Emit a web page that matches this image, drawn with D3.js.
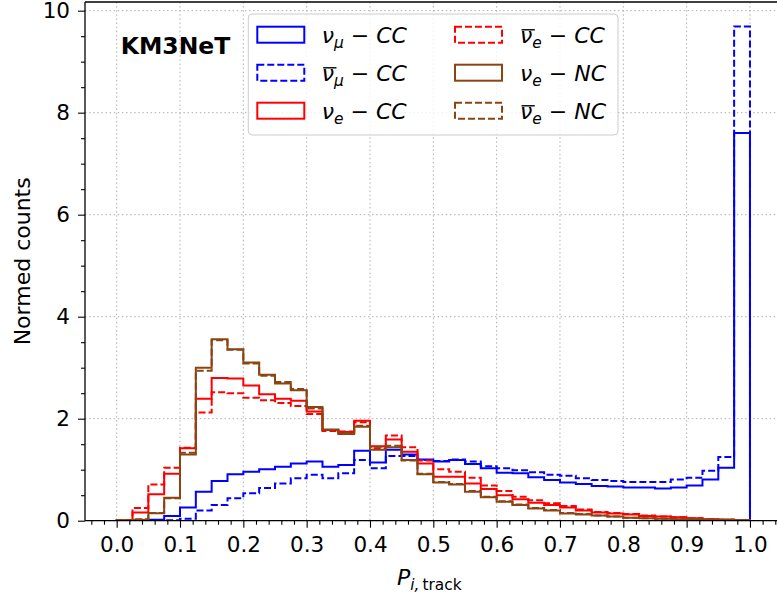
<!DOCTYPE html>
<html>
<head>
<meta charset="utf-8">
<script src="https://cdn.jsdelivr.net/npm/d3@7"></script>
<style>
  body { margin: 0; background: #fff; }
  svg { display: block; }
  text { font-family: "DejaVu Sans", sans-serif; }
</style>
</head>
<body>
<svg id="chart" width="777" height="594"></svg>
<script>
// ---------------- DATA ----------------
const binWidth = 0.025;
const binEdges = d3.range(0, 41).map(k => +(k * binWidth).toFixed(3));

const numuCC = [0, 0.005, 0.02, 0.09, 0.26, 0.57, 0.78, 0.91, 0.96, 1.01,
  1.06, 1.12, 1.16, 1.06, 1.09, 1.37, 1.14, 1.39, 1.30, 1.20,
  1.16, 1.19, 1.11, 1.03, 0.94, 0.93, 0.85, 0.80, 0.75, 0.72,
  0.68, 0.67, 0.65, 0.65, 0.63, 0.65, 0.69, 0.81, 1.04, 7.60];
const antiNumuCC = [0, 0, 0.003, 0.01, 0.04, 0.20, 0.31, 0.44, 0.54, 0.64,
  0.73, 0.83, 0.90, 0.83, 0.93, 1.19, 1.03, 1.27, 1.27, 1.19,
  1.17, 1.20, 1.16, 1.07, 1.03, 0.99, 0.95, 0.90, 0.88, 0.83,
  0.80, 0.78, 0.76, 0.76, 0.76, 0.81, 0.84, 0.98, 1.25, 9.69];
const nueCC = [0.01, 0.16, 0.52, 0.92, 1.42, 2.39, 2.80, 2.79, 2.65, 2.48,
  2.39, 2.35, 2.14, 1.78, 1.74, 1.96, 1.46, 1.59, 1.35, 1.12,
  0.86, 0.86, 0.73, 0.62, 0.50, 0.42, 0.35, 0.31, 0.26, 0.20,
  0.16, 0.14, 0.12, 0.09, 0.08, 0.07, 0.05, 0.03, 0.02, 0.01];
const antiNueCC = [0.01, 0.25, 0.71, 1.04, 1.43, 2.12, 2.52, 2.50, 2.41, 2.36,
  2.31, 2.25, 2.09, 1.76, 1.75, 1.93, 1.42, 1.67, 1.44, 1.18,
  1.01, 0.96, 0.84, 0.69, 0.58, 0.47, 0.40, 0.34, 0.29, 0.22,
  0.17, 0.15, 0.13, 0.10, 0.08, 0.07, 0.05, 0.03, 0.02, 0.01];
const nueNC = [0.005, 0.02, 0.145, 0.45, 1.30, 3.00, 3.56, 3.36, 3.10, 2.86,
  2.69, 2.56, 2.23, 1.79, 1.70, 1.84, 1.39, 1.44, 1.19, 0.91,
  0.75, 0.71, 0.57, 0.46, 0.37, 0.31, 0.24, 0.20, 0.14, 0.12,
  0.10, 0.08, 0.06, 0.05, 0.04, 0.03, 0.03, 0.02, 0.02, 0.01];
const antiNueNC = [0.005, 0.03, 0.15, 0.44, 1.33, 2.94, 3.54, 3.35, 3.08, 2.84,
  2.72, 2.58, 2.20, 1.78, 1.72, 1.86, 1.45, 1.47, 1.18, 0.92,
  0.76, 0.72, 0.58, 0.47, 0.38, 0.32, 0.25, 0.21, 0.15, 0.13,
  0.10, 0.08, 0.06, 0.05, 0.04, 0.03, 0.03, 0.02, 0.02, 0.01];

const xMajorTicks = [0.0, 0.1, 0.2, 0.3, 0.4, 0.5, 0.6, 0.7, 0.8, 0.9, 1.0];
const yMajorTicks = [0, 2, 4, 6, 8, 10];

const series = [
  { values: numuCC,     color: "#0000ff", dashed: false, flav: "μ", anti: false, inter: "CC" },
  { values: antiNumuCC, color: "#0000ff", dashed: true,  flav: "μ", anti: true,  inter: "CC" },
  { values: nueCC,      color: "#ff0000", dashed: false, flav: "e", anti: false, inter: "CC" },
  { values: antiNueCC,  color: "#ff0000", dashed: true,  flav: "e", anti: true,  inter: "CC" },
  { values: nueNC,      color: "#8b4513", dashed: false, flav: "e", anti: false, inter: "NC" },
  { values: antiNueNC,  color: "#8b4513", dashed: true,  flav: "e", anti: true,  inter: "NC" }
];

// ---------------- LAYOUT ----------------
const svg = d3.select("#chart");
const pLeft = 85, pBottom = 520.7, pTop = 2;
const x = d3.scaleLinear().domain([-0.05, 1.05]).range([pLeft, pLeft + 1.1 * 633.3]);
const y = d3.scaleLinear().domain([0, 10.17]).range([pBottom, pTop]);
const pRight = x(1.05);

svg.append("rect").attr("width", 777).attr("height", 594).attr("fill", "#fff");

svg.append("defs").append("clipPath").attr("id", "plotclip")
  .append("rect").attr("x", pLeft).attr("y", pTop).attr("width", pRight - pLeft).attr("height", pBottom - pTop);

// grid
const grid = svg.append("g").attr("stroke", "#b0b0b0").attr("stroke-width", 1)
  .attr("stroke-dasharray", "1.5,2.6").attr("fill", "none");
xMajorTicks.forEach(t => grid.append("line")
  .attr("x1", x(t)).attr("x2", x(t)).attr("y1", pTop).attr("y2", pBottom));
yMajorTicks.forEach(t => grid.append("line")
  .attr("x1", pLeft).attr("x2", pRight).attr("y1", y(t)).attr("y2", y(t)));

// histograms
const stepLine = d3.line().x(d => x(d[0])).y(d => y(d[1]));
const plot = svg.append("g").attr("clip-path", "url(#plotclip)");
series.forEach(s => {
  const pts = [[binEdges[0], 0]];
  s.values.forEach((v, i) => { pts.push([binEdges[i], v]); pts.push([binEdges[i + 1], v]); });
  pts.push([binEdges[binEdges.length - 1], 0]);
  plot.append("path").attr("d", stepLine(pts))
    .attr("fill", "none").attr("stroke", s.color).attr("stroke-width", 2)
    .attr("stroke-linejoin", "miter")
    .attr("stroke-dasharray", s.dashed ? "7,3" : null);
});

// axes
const fs = 21.5;
const xMinor = d3.range(-2, 53).map(k => +(k * 0.02).toFixed(2)).filter(v => Math.abs(v * 10 - Math.round(v * 10)) > 1e-6);
const yMinor = d3.range(0, 21).map(k => k * 0.5).filter(v => v % 2 !== 0);

svg.append("g").attr("transform", `translate(0,${pBottom})`)
  .call(d3.axisBottom(x).tickValues(xMajorTicks).tickFormat(d3.format(".1f")).tickSize(7).tickPadding(9));
svg.append("g").attr("transform", `translate(0,${pBottom})`)
  .call(d3.axisBottom(x).tickValues(xMinor).tickFormat("").tickSize(4));
svg.append("g").attr("transform", `translate(${pLeft},0)`)
  .call(d3.axisLeft(y).tickValues(yMajorTicks).tickFormat(d3.format("d")).tickSize(7).tickPadding(8));
svg.append("g").attr("transform", `translate(${pLeft},0)`)
  .call(d3.axisLeft(y).tickValues(yMinor).tickFormat("").tickSize(4));
svg.selectAll(".domain").remove();
svg.selectAll(".tick line").attr("stroke", "#000").attr("stroke-width", 1.1);
svg.selectAll(".tick text").attr("font-family", "DejaVu Sans").attr("font-size", fs).attr("fill", "#000");

// spines
const sp = svg.append("g").attr("stroke", "#000").attr("stroke-width", 1.3);
sp.append("line").attr("x1", pLeft).attr("x2", pLeft).attr("y1", pTop).attr("y2", pBottom);
sp.append("line").attr("x1", pLeft).attr("x2", pRight).attr("y1", pBottom).attr("y2", pBottom);
sp.append("line").attr("x1", pLeft).attr("x2", pRight).attr("y1", pTop).attr("y2", pTop);

// axis labels
svg.append("text").attr("transform", `translate(29.5,${(pTop + pBottom) / 2}) rotate(-90)`)
  .attr("text-anchor", "middle").attr("font-size", 22).text("Normed counts");

const xl = svg.append("text").attr("x", 397).attr("y", 585).attr("font-size", 22);
xl.append("tspan").attr("font-style", "italic").text("P");
xl.append("tspan").attr("font-style", "italic").attr("font-size", 15.4).attr("dy", 5).text("i,");
xl.append("tspan").attr("font-size", 15.4).attr("dx", 3).text("track");

// title
svg.append("text").attr("x", 120.7).attr("y", 54).attr("font-size", 23.5)
  .attr("font-weight", "bold").text("KM3NeT");

// legend
const lg = svg.append("g");
lg.append("rect").attr("x", 248.3).attr("y", 14).attr("width", 369.7).attr("height", 121)
  .attr("rx", 4).attr("fill", "#fff").attr("fill-opacity", 0.8)
  .attr("stroke", "#cccccc").attr("stroke-width", 1);
const colX = [257.3, 455], textX = [321.7, 520];
const lfs = 22;
series.forEach((s, i) => {
  const col = Math.floor(i / 3), row = i % 3;
  const ty = 26.7 + row * 38;
  lg.append("rect").attr("x", colX[col]).attr("y", ty).attr("width", 47).attr("height", 16)
    .attr("fill", "none").attr("stroke", s.color).attr("stroke-width", 2)
    .attr("stroke-dasharray", s.dashed ? "7,3" : null);
  const t = lg.append("text").attr("x", textX[col]).attr("y", ty + 16.6).attr("font-size", lfs);
  const nu = t.append("tspan").attr("font-style", "italic").text("ν");
  t.append("tspan").attr("font-style", "italic").attr("font-size", 15.4).attr("dy", 4.5).text(s.flav);
  t.append("tspan").attr("dy", -4.5).text(" − ");
  t.append("tspan").attr("font-style", "italic").text(s.inter);
  if (s.anti) {
    const w = nu.node().getComputedTextLength();
    lg.append("line").attr("x1", textX[col] + 1.5).attr("x2", textX[col] + w + 2.5)
      .attr("y1", ty + 16.6 - 13.5).attr("y2", ty + 16.6 - 13.5)
      .attr("stroke", "#000").attr("stroke-width", 1.4);
  }
});
</script>
</body>
</html>
